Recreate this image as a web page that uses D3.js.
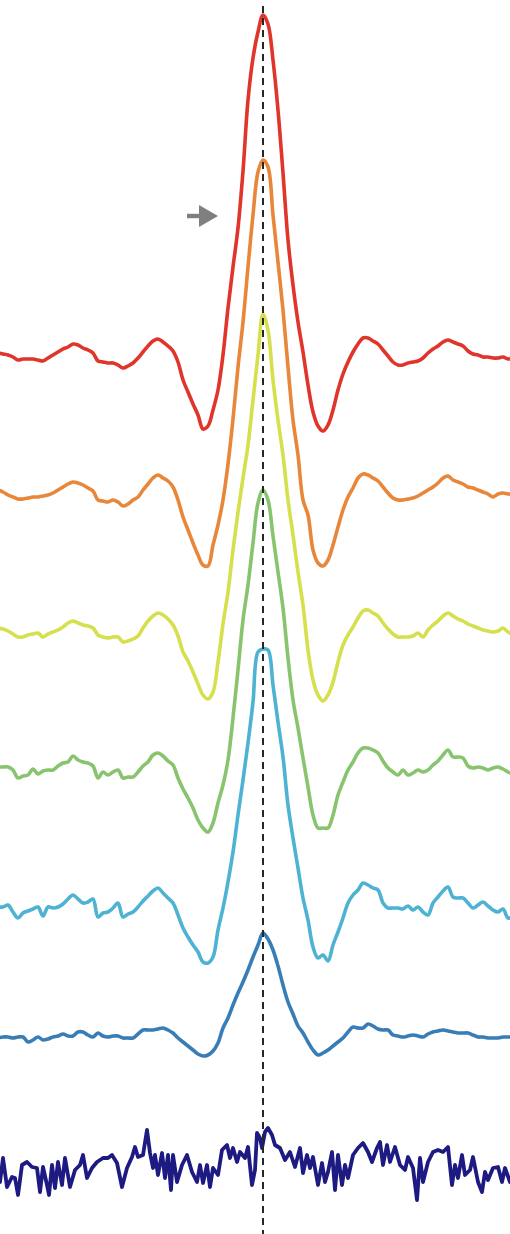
<!DOCTYPE html>
<html>
<head>
<meta charset="utf-8">
<script src="https://cdn.jsdelivr.net/npm/d3@7/dist/d3.min.js"></script>
<style>
  html, body { margin: 0; padding: 0; background: #ffffff; }
  svg { display: block; }
</style>
</head>
<body>
<div id="chart"></div>
<script>
// ---------------- DATA ----------------
// lag (bins) for the smooth traces: -53 .. 50
const lags = d3.range(-53, 51);

const seriesNames = ["r1", "r2", "r3", "r4", "r5", "r6", "r7"];
const seriesColors = ["#e0352a", "#e8873a", "#d6df4c", "#88c46e", "#4eb2d3", "#397db6", "#1d1a82"];
// vertical offset of each trace (same units as the values)
const seriesOffsets = [0, -68.5, -137.5, -206, -276, -341.5, -407.5];

const red = [1,0.5,0,-1,-2.5,-2,-2,-2,-2.5,-3,-1.5,0,1.5,3,4,5.5,5,3.5,2.5,1,-3,-3.5,-4,-4,-5,-6.5,-5.5,-4,-1.5,1.5,4.5,7,8,6.5,4.5,2,-3.5,-12.5,-18.5,-24.5,-30,-37,-35.5,-27.5,-17.5,0,23.5,44,63.5,92,127.5,148.5,161.5,170,165.5,147.5,122.5,91,57.5,35,16.5,1.5,-15,-28.5,-35.5,-38,-35,-27.5,-17.5,-9.5,-3.5,1.5,5.5,8.5,8.5,7,5.5,2.5,-0.5,-3.5,-5,-5,-4,-3.5,-3,-1.5,1,3,4.5,6.5,7.5,6.5,5.5,4.5,2,0.5,0,-1,-1,-1.5,-1.5,-1,-2,-1.5];

const orange = [1,0,-1.5,-2.5,-3.5,-3.5,-3,-2.5,-2.5,-2,-1.5,-0.5,1,2.5,4,5,4.5,3.5,2,0.5,-4,-4.5,-5,-4,-5,-7,-6,-4,-2.5,1,4,7,8.5,7,5.5,2.5,-4,-12.5,-19,-25.5,-31.5,-36.5,-37,-26.5,-16.5,-4,14,36.5,62.5,85,112.5,138.5,160,166,162.5,138.5,115,91,62.5,36,18.5,-4,-11.5,-29,-35.5,-37,-34,-26.5,-17.5,-9,-2.5,2,7,9,8.5,7,5.5,2.5,-0.5,-3,-4,-4,-3.5,-3,-2,-0.5,1,2.5,4.5,7,8,6,5,4,2.5,2,1,0,-1,-2.5,-1,-0.5,-1,-1];

const yellow = [1,0.5,-0.5,-2,-3.5,-3.5,-2.5,-2,-1.5,-3.5,-2,-1,0,1.5,3.5,4.5,3.5,2.5,2,1,-2.5,-3.5,-4,-3.5,-3.5,-6,-5.5,-4.5,-3,1,4.5,7,8.5,7.5,5.5,2.5,-3,-11,-15.5,-21,-27,-32.5,-34.5,-31,-16,3,19,40,59,76,92.5,115,137.5,158,150,125,105,87.5,65,47.5,29,12.5,-10,-25,-32.5,-35.5,-32.5,-26,-16,-7.5,-2.5,1.5,6,9.5,10,8.5,7,3.5,0.5,-2,-3.5,-3.5,-3.5,-3,-1.5,-3.5,0,2.5,4.5,7,8.5,7,5.5,4.5,3,2,1,0,-0.5,-1,-0.5,1,-1,-2];

const green = [0,0,0,-1.5,-5.5,-4.5,-4,-1,-3.5,-2,-1.5,-1.5,0.5,2,2.5,5.5,3.5,2.5,2,0.5,-5.5,-2.5,-4,-2.5,-1.5,-5.5,-5,-5,-2.5,0.5,2.5,6,7,5.5,3,1,-5.5,-11,-15.5,-20.5,-26.5,-30.5,-32.5,-28,-18,-9,3.5,24.5,48.5,73.5,91,112,132,138.5,133.5,115.5,97.5,79.5,54.5,33.5,19.5,4.5,-10,-24,-30.5,-30.5,-30.5,-24,-14,-7.5,-1.5,2.5,7,9.5,9.5,8.5,7,3,-0.5,-2.5,-4,-1.5,-4,-3,-1.5,-2.5,-1.5,1,3,6,8.5,5,5,4.5,0.5,-0.5,0,-0.5,-1.5,-0.5,0,-1,-2.5,-3.5];

const lightBlue = [0,0,1,-2.5,-5.5,-3,-2,-1,0,-4.5,0,-0.5,0,1.5,4,6,4,2,2.5,4,-5,-3,-2.5,-0.5,2,-5,-3.5,-2.5,0,3,5.5,8,9.5,7,4.5,2,-4,-10.5,-15,-19,-22.5,-27.5,-28,-25,-11.5,-0.5,12.5,27.5,46,63.5,82,102.5,127.5,129,128.5,111,92.5,75,51,34.5,19.5,4.5,-6.5,-20,-25.5,-24,-27,-19,-12.5,-5.5,2,6,8.5,12,11,9.5,8.5,2,-0.5,-0.5,-0.5,-1,0.5,-1.5,0,-2.5,-4,2,5,8,10,5,4.5,4.5,2,-0.5,1,2.5,0.5,-1.5,-2.5,-1,-5.5,-4.5];

const blue = [0,0.5,0.5,0,0.5,0.5,-2,-1,0.5,-1,-0.5,0.5,1,2,1,1,3,3,1.5,0.5,2.5,1,0.5,1,1,0,0,0,2,4,4,4,4.5,5,4,2.5,0,-2,-4,-6,-8,-9,-8.5,-6.5,-2.5,5,10,16.5,22.5,28,34,40.5,46.5,52.5,49.5,44,36,26.5,18,12,6,2.5,-2,-6,-8.5,-7.5,-6,-4,-2,0,3,5.5,5,5,7,6,4.5,4,4,1.5,1,0.5,1,1.5,1,0.5,2,3,3.5,4,3.5,3,2.5,2.5,2.5,1.5,0.5,0.5,0,0,0,0.5,0.5,0.5];

// the noisiest trace, sampled more finely
const navyLags = [-52.6,-52,-51.2,-50.2,-49.6,-49,-48.2,-47.2,-46.2,-45.2,-44.6,-44,-43.2,-42.8,-42.2,-41.6,-41,-40.2,-39.6,-38.6,-37.6,-36.6,-36,-35.2,-34.2,-33.2,-32,-31,-30.2,-29.2,-28.2,-27.2,-26.2,-25.6,-25,-24,-23.2,-22.6,-22,-21.6,-21,-20.2,-19.6,-19,-18.4,-18,-17.2,-16.2,-15.2,-14.2,-13.2,-12.6,-12,-11.2,-10.6,-10,-9,-8.2,-7.2,-6.6,-6,-5.2,-4.6,-3.6,-3,-2.2,-1.6,-1.2,-0.6,-0.2,0.4,1,1.8,2.4,3.4,4.4,5.4,6.4,7.4,8,8.8,9.4,10,11,11.8,12.4,13,13.8,14.4,15,15.8,16.4,17,18,19,20,21,21.8,22.8,23.4,24,24.8,25.4,26.4,27.4,28.4,29,30,30.8,31.4,32,33,34,35,36,37,37.8,38.4,39,39.8,40.4,41.4,42,43,43.8,44.4,45,46,47,47.8,48.4,49.4];
const navy = [-6,6,-8.5,-3.5,-4,-12.5,2.5,4,1.5,1,-11,1.5,-7.5,-12.5,2.5,-9,4,-7.5,6,-8.5,0,2.5,7.5,-4,1,4,6,6,7.5,3.5,-8.5,1,6.5,11.5,6.5,7.5,20,8.5,1,7.5,-2.5,8.5,-4,7.5,-10,7.5,-6,2.5,7.5,-1,-6,2.5,-6.5,2.5,-8.5,1,-2.5,10,12.5,6,11,4,9,6,11.5,-7.5,0,18.5,16,11,19,21,17.5,12.5,11,5,9,1.5,11,-1.5,7.5,1,6.5,-7.5,3.5,-6,-1,9,-10,7.5,-7.5,2.5,-4,7.5,11,13.5,9,4,11,14,2.5,12.5,4,11.5,2.5,0,6.5,1,-15,6,-6,4,9,10,9,11.5,-7.5,2.5,-4,7.5,-2.5,0,6.5,-6,-11,-1,-5,1,1.5,-6,1,-6];

// annotation arrow (lag, level)
const arrowTip = [-9, 69.5];
// reference line at zero lag
const refLag = [0];

// ---------------- CHART ----------------
const W = 510, H = 1234;
const svg = d3.select("#chart").append("svg").attr("width", W).attr("height", H);

const x = d3.scaleLinear().domain([-52.6, 49.4]).range([0, W]);
const y = d3.scaleLinear().domain([-439.5, 177.5]).range([H, 0]);

const seriesValues = [red, orange, yellow, green, lightBlue, blue, navy];
const seriesLags = [lags, lags, lags, lags, lags, lags, navyLags];

seriesValues.forEach((vals, i) => {
  const off = seriesOffsets[i];
  const pts = vals.map((v, j) => [seriesLags[i][j], v + off]);
  const line = d3.line()
    .x(d => x(d[0]))
    .y(d => y(d[1]))
    .curve(i === 6 ? d3.curveLinear : d3.curveCatmullRom.alpha(0.5));
  svg.append("path")
    .datum(pts)
    .attr("class", "trace " + seriesNames[i])
    .attr("fill", "none")
    .attr("stroke", seriesColors[i])
    .attr("stroke-width", i === 6 ? 3.8 : 3.6)
    .attr("stroke-linejoin", "round")
    .attr("stroke-linecap", "round")
    .attr("d", line);
});

// arrow annotation
const ax = x(arrowTip[0]), ay = y(arrowTip[1]);
const arrow = svg.append("g").attr("fill", "#7f7f7f");
arrow.append("rect").attr("x", ax - 31).attr("y", ay - 2.2).attr("width", 14).attr("height", 4.4);
arrow.append("path").attr("d", `M${ax},${ay} L${ax - 19},${ay - 11} L${ax - 19},${ay + 11} Z`);

// dashed vertical reference line
svg.selectAll("line.ref").data(refLag).enter().append("line")
  .attr("class", "ref")
  .attr("x1", d => x(d)).attr("x2", d => x(d))
  .attr("y1", 6).attr("y2", H)
  .attr("stroke", "#262626")
  .attr("stroke-width", 2)
  .attr("stroke-dasharray", "7,5");
</script>
</body>
</html>
